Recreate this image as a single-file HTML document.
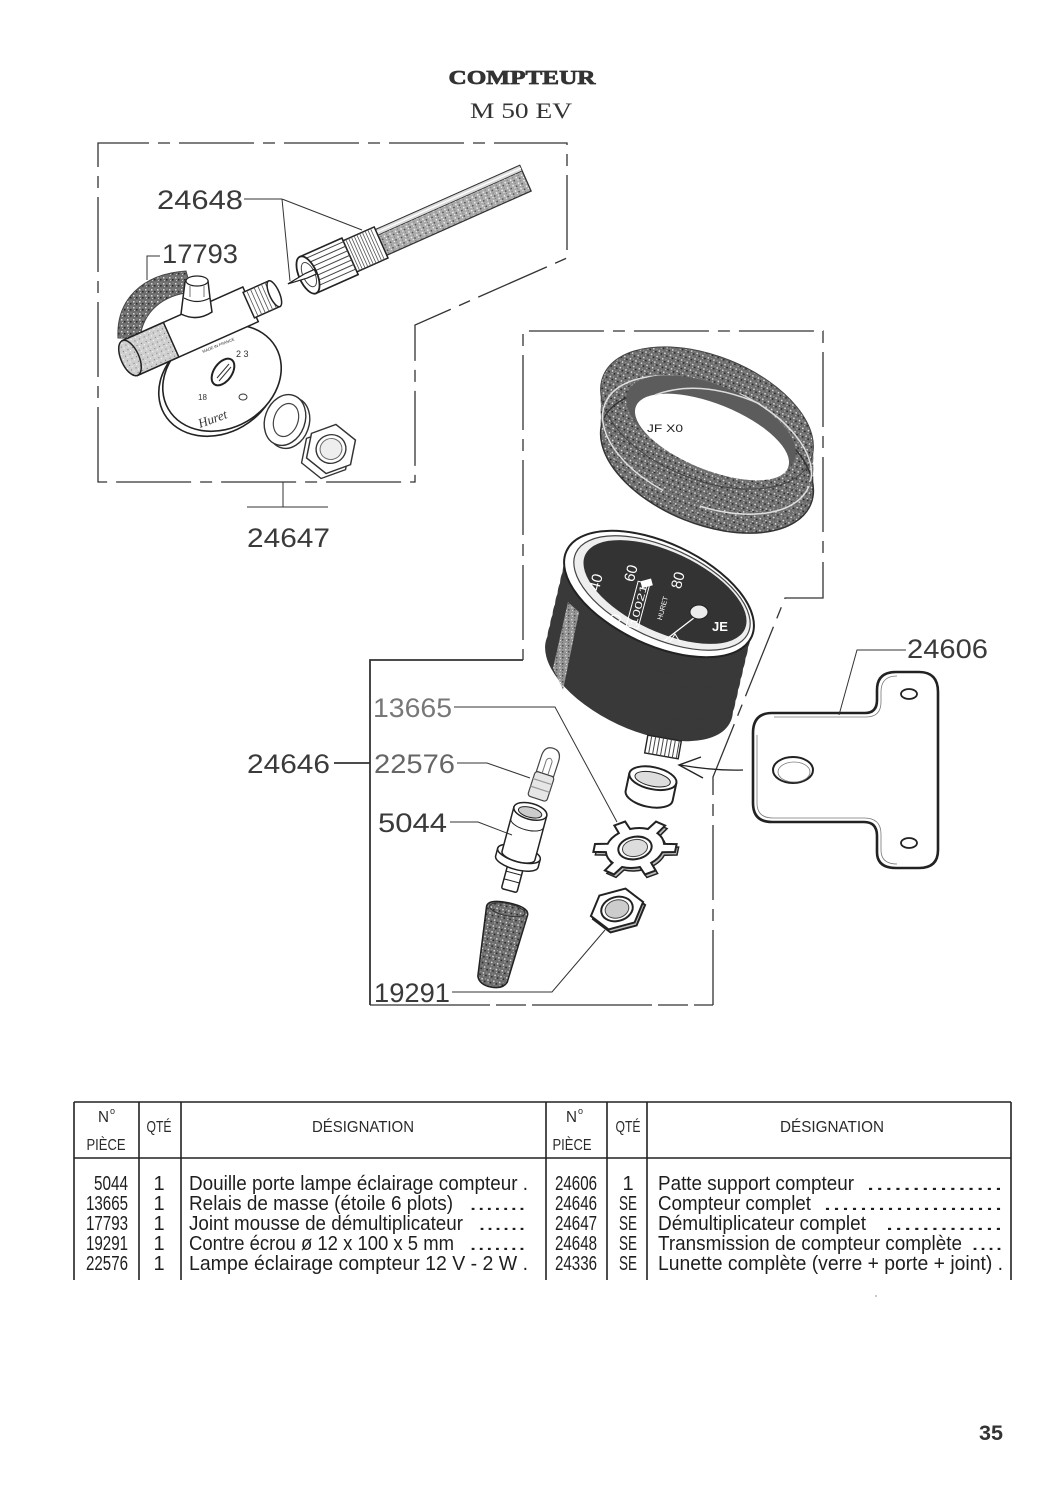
<!DOCTYPE html>
<html><head><meta charset="utf-8">
<style>
html,body{margin:0;padding:0;background:#fff;}
svg{display:block;}
text{font-family:"Liberation Sans",sans-serif;}
</style></head><body>
<svg width="1060" height="1500" viewBox="0 0 1060 1500" xmlns="http://www.w3.org/2000/svg">
<defs>
<pattern id="g1" width="6" height="6" patternUnits="userSpaceOnUse">
 <rect width="6" height="6" fill="#ababab"/>
 <rect x="1" y="1" width="1.5" height="1.5" fill="#eee"/>
 <rect x="4" y="3" width="1.5" height="1.5" fill="#555"/>
 <rect x="2" y="4" width="1" height="1" fill="#fff"/>
 <rect x="4" y="0" width="1" height="1" fill="#777"/>
</pattern>
<pattern id="g2" width="6" height="6" patternUnits="userSpaceOnUse">
 <rect width="6" height="6" fill="#6e6e6e"/>
 <rect x="1" y="1" width="1.5" height="1.5" fill="#d8d8d8"/>
 <rect x="4" y="3" width="1.5" height="1.5" fill="#2a2a2a"/>
 <rect x="2" y="4" width="1" height="1" fill="#c4c4c4"/>
 <rect x="4.5" y="0.5" width="1" height="1" fill="#a0a0a0"/>
</pattern>
<pattern id="g3" width="5" height="5" patternUnits="userSpaceOnUse">
 <rect width="5" height="5" fill="#cfcfcf"/>
 <rect x="1" y="1" width="1" height="1" fill="#777"/>
 <rect x="3" y="3" width="1" height="1" fill="#fff"/>
</pattern>
</defs>

<!-- Title -->
<text x="522" y="84" text-anchor="middle" style="font-family:'Liberation Serif',serif" font-weight="bold" font-size="20" textLength="147" lengthAdjust="spacingAndGlyphs" fill="#333" stroke="#333" stroke-width="0.7">COMPTEUR</text>
<text x="521" y="118" text-anchor="middle" style="font-family:'Liberation Serif',serif" font-size="22" textLength="102" lengthAdjust="spacingAndGlyphs" fill="#333">M 50 EV</text>

<!-- Frames -->
<g fill="none" stroke="#333" stroke-width="1.3" stroke-dasharray="75 9 12 9">
 <path d="M98,482 V143 H567 V258 L415,325 V482 Z"/>
 <path d="M713,1005 V777 L785,598 H823 V331 H523 V660"/>
</g>
<path d="M370,1005 H713" fill="none" stroke="#333" stroke-width="1.3" stroke-dasharray="120 6 30 6"/>
<g fill="none" stroke="#333" stroke-width="1.8">
 <path d="M523,660 H370 V1005"/>
</g>

<!-- Foam 17793 -->
<path d="M118,338 C116,300 142,274 186,271 L192,292 C162,295 143,312 140,338 Z" fill="url(#g2)" stroke="#444" stroke-width="1"/>

<!-- Disk of demultiplicateur -->
<ellipse cx="218" cy="383" rx="62" ry="50" transform="rotate(-30 218 383)" fill="#fff" stroke="#222" stroke-width="1.6"/>
<ellipse cx="222" cy="378" rx="62" ry="50" transform="rotate(-30 222 378)" fill="#fff" stroke="#222" stroke-width="1.6"/>
<ellipse cx="223" cy="372" rx="9" ry="15" transform="rotate(35 223 372)" fill="#fff" stroke="#222" stroke-width="2"/>
<path d="M217,378 L229,364 M219,381 L231,367" stroke="#333" stroke-width="1"/>
<text x="200" y="428" font-size="13" font-style="italic" fill="#333" style="font-family:'Liberation Serif',serif" transform="rotate(-20 200 428)">Huret</text>
<text x="236" y="357" font-size="9" fill="#333">2 3</text>
<text x="198" y="400" font-size="8" fill="#333">18</text>
<text x="203" y="353" font-size="4" fill="#333" transform="rotate(-22 203 353)">MADE IN FRANCE</text>
<ellipse cx="243" cy="397" rx="4" ry="3" fill="none" stroke="#333"/>

<!-- Demultiplicateur tube -->
<g transform="translate(130,358) rotate(-24)">
 <rect x="0" y="-19" width="132" height="38" fill="#fff" stroke="#222" stroke-width="1.5"/>
 <rect x="0" y="-19" width="45" height="38" fill="url(#g3)" stroke="#222" stroke-width="1.5"/>
 <rect x="130" y="-14" width="28" height="28" fill="#fff" stroke="#222" stroke-width="1.5"/>
 <path d="M134,-14v28M138,-14v28M142,-14v28M146,-14v28M150,-14v28M154,-14v28" stroke="#555" stroke-width="0.8"/>
 <ellipse cx="158" cy="0" rx="5" ry="14" fill="#fff" stroke="#222" stroke-width="1.5"/>
 <ellipse cx="0" cy="0" rx="9" ry="19" fill="url(#g3)" stroke="#222" stroke-width="1.5"/>
</g>
<!-- fitting on tube -->
<path d="M181,314 L183,298 L185,282 Q196,274 208,281 L210,298 L212,312 Q197,322 181,314 Z" fill="#fff" stroke="#222" stroke-width="1.5"/>
<ellipse cx="197" cy="281" rx="11" ry="5" fill="#fff" stroke="#222" stroke-width="1.2"/>
<path d="M184,298 Q197,305 210,298" fill="none" stroke="#222" stroke-width="1.2"/>
<path d="M190,286 V297 M204,286 V297" stroke="#555" stroke-width="0.8"/>

<!-- washer -->
<ellipse cx="289" cy="423" rx="20" ry="26" transform="rotate(20 289 423)" fill="#fff" stroke="#333" stroke-width="1.4"/>
<ellipse cx="285" cy="420" rx="20" ry="26" transform="rotate(20 285 420)" fill="#fff" stroke="#333" stroke-width="1.4"/>
<ellipse cx="286" cy="420" rx="12" ry="17" transform="rotate(20 286 420)" fill="#fff" stroke="#444" stroke-width="1.2"/>
<!-- hex nut -->
<g transform="translate(326,454) rotate(-20) scale(1,0.95)">
 <polygon points="26,0 13,22.5 -13,22.5 -26,0 -13,-22.5 13,-22.5" fill="#fff" stroke="#333" stroke-width="1.4"/>
</g>
<g transform="translate(331,449) rotate(-20) scale(1,0.95)">
 <polygon points="26,0 13,22.5 -13,22.5 -26,0 -13,-22.5 13,-22.5" fill="#fff" stroke="#333" stroke-width="1.5"/>
 <circle r="15" fill="#fff" stroke="#333" stroke-width="1.4"/>
 <circle r="11" fill="#eee" stroke="#666" stroke-width="1"/>
</g>

<!-- Cable 24648 with knurled nut -->
<g transform="translate(308,275) rotate(-24)">
 <rect x="78" y="-14" width="160" height="28" fill="url(#g1)" stroke="#333" stroke-width="1.3"/>
 <rect x="78" y="-14" width="160" height="6" fill="#ddd" stroke="#333" stroke-width="0.8"/>
 <line x1="80" y1="-11" x2="238" y2="-11" stroke="#fff" stroke-width="1.2"/>
 <rect x="45" y="-17" width="35" height="34" fill="#fff" stroke="#222" stroke-width="1.5"/>
 <path d="M49,-17v34M52,-17v34M55,-17v34M58,-17v34M61,-17v34M64,-17v34M67,-17v34M70,-17v34M73,-17v34M76,-17v34" stroke="#555" stroke-width="0.8"/>
 <rect x="0" y="-20" width="46" height="40" fill="#fff" stroke="#222" stroke-width="1.6"/>
 <path d="M6,-16H46M6,-11H46M6,-6H46M6,-1H46M6,4H46M6,9H46M6,14H46" stroke="#444" stroke-width="1"/>
 <ellipse cx="0" cy="0" rx="9" ry="20" fill="#fff" stroke="#222" stroke-width="1.8"/>
 <ellipse cx="1" cy="0" rx="6" ry="13" fill="#fff" stroke="#444" stroke-width="1"/>
 <polygon points="-22,0 -2,-2.5 8,-2.5 8,2.5 -2,2.5" fill="#fff" stroke="#222" stroke-width="1.2"/>
</g>

<!-- Bezel (lunette) -->
<g fill="url(#g2)">
 <ellipse cx="707" cy="462" rx="112" ry="62" transform="rotate(22 707 462)"/>
 <ellipse cx="707" cy="451" rx="112" ry="62" transform="rotate(22 707 451)"/>
 <ellipse cx="707" cy="440" rx="112" ry="62" transform="rotate(22 707 440)"/>
 <ellipse cx="707" cy="429" rx="112" ry="62" transform="rotate(22 707 429)"/>
 <ellipse cx="707" cy="418" rx="112" ry="62" transform="rotate(22 707 418)"/>
</g>
<ellipse cx="707" cy="462" rx="112" ry="62" transform="rotate(22 707 462)" fill="none" stroke="#333" stroke-width="1.5"/>
<ellipse cx="707" cy="418" rx="112" ry="62" transform="rotate(22 707 418)" fill="none" stroke="#444" stroke-width="1"/>
<ellipse cx="707" cy="445" rx="110" ry="60" transform="rotate(22 707 445)" fill="none" stroke="#e0e0e0" stroke-width="1.5" stroke-dasharray="120 40 200 60"/>
<ellipse cx="711" cy="426" rx="90" ry="41" transform="rotate(22 711 426)" fill="#5c5c5c"/>
<ellipse cx="712" cy="437" rx="82" ry="33" transform="rotate(22 712 437)" fill="#fff"/>
<path d="M655,395 Q700,378 760,404" fill="none" stroke="#ddd" stroke-width="1.5"/>
<text x="647" y="432" font-size="11" fill="#222" textLength="36" lengthAdjust="spacingAndGlyphs">JF X0</text>

<!-- Gauge body -->
<g fill="#393939">
 <ellipse cx="639" cy="679" rx="101" ry="50" transform="rotate(25 639 679)"/>
 <ellipse cx="641.5" cy="668.4" rx="101" ry="50" transform="rotate(25 641.5 668.4)"/>
 <ellipse cx="644" cy="657.8" rx="101" ry="50" transform="rotate(25 644 657.8)"/>
 <ellipse cx="646.5" cy="647.1" rx="101" ry="50" transform="rotate(25 646.5 647.1)"/>
 <ellipse cx="649" cy="636.5" rx="101" ry="50" transform="rotate(25 649 636.5)"/>
 <ellipse cx="651.5" cy="625.9" rx="101" ry="50" transform="rotate(25 651.5 625.9)"/>
 <ellipse cx="654" cy="615.3" rx="101" ry="50" transform="rotate(25 654 615.3)"/>
 <ellipse cx="656.5" cy="604.6" rx="101" ry="50" transform="rotate(25 656.5 604.6)"/>
</g>
<path d="M568,602 L553,668 L563,690 L579,612 Z" fill="url(#g1)" opacity="0.8"/>
<ellipse cx="659" cy="594" rx="102" ry="51" transform="rotate(25 659 594)" fill="#fff" stroke="#222" stroke-width="2"/>
<ellipse cx="662" cy="593" rx="95" ry="45" transform="rotate(25 662 593)" fill="#eee" stroke="#444" stroke-width="1.2"/>
<ellipse cx="665" cy="592" rx="88" ry="40" transform="rotate(25 665 592)" fill="#333"/>
<g fill="#fff" font-size="15">
 <text x="595" y="588" text-anchor="middle" transform="rotate(-75 595 582)">40</text>
 <text x="630" y="579" text-anchor="middle" transform="rotate(-75 630 573)">60</text>
 <text x="677" y="586" text-anchor="middle" transform="rotate(-75 677 580)">80</text>
 <text x="615" y="624" text-anchor="middle" transform="rotate(-75 615 618)">0</text>
</g>
<rect x="641" y="580" width="11" height="7" fill="#fff" transform="rotate(-15 646 583)"/>
<g transform="rotate(-75 638 605)">
 <rect x="615" y="599" width="46" height="12" fill="none" stroke="#fff" stroke-width="1"/>
 <text x="617" y="609" font-size="10" fill="#fff" textLength="42" lengthAdjust="spacingAndGlyphs">10021</text>
</g>
<text x="662" y="611" font-size="7" fill="#fff" text-anchor="middle" transform="rotate(-75 662 608)">HURET</text>
<line x1="699" y1="614" x2="664" y2="641" stroke="#fff" stroke-width="1.3"/>
<ellipse cx="699" cy="612" rx="9" ry="7" fill="#ececec" stroke="#222" stroke-width="1"/>
<text x="712" y="631" font-size="13" font-weight="bold" fill="#fff">JE</text>
<path d="M670,642 L675,634 L680,642" fill="none" stroke="#fff" stroke-width="1"/>

<!-- threaded stem -->
<g transform="translate(663,747) rotate(10)">
 <rect x="-17" y="-9" width="34" height="18" fill="#fff" stroke="#222" stroke-width="1.4"/>
 <path d="M-13,-9v18M-9,-9v18M-5,-9v18M-1,-9v18M3,-9v18M7,-9v18M11,-9v18M15,-9v18" stroke="#444" stroke-width="1"/>
</g>

<!-- bushing -->
<g transform="translate(651,787) rotate(12)" stroke="#222" stroke-width="2" fill="#fff">
 <path d="M-24,-9 V9 A24,11 0 0 0 24,9 V-9"/>
 <ellipse cx="0" cy="-9" rx="24" ry="11"/>
 <ellipse cx="0" cy="-8" rx="18" ry="7" fill="#ddd" stroke-width="1"/>
</g>

<!-- star washer 13665 -->
<g transform="translate(637,851) rotate(-10) scale(1.05,0.7)">
 <path d="M27.96,1.47 L39.70,4.87 L36.82,15.63 L24.95,12.71 A28,28 0 0 1 12.71,24.95 L15.63,36.82 L4.87,39.70 L1.47,27.96 A28,28 0 0 1 -15.25,23.48 L-24.07,31.95 L-31.95,24.07 L-23.48,15.25 A28,28 0 0 1 -27.96,-1.47 L-39.70,-4.87 L-36.82,-15.63 L-24.95,-12.71 A28,28 0 0 1 -12.71,-24.95 L-15.63,-36.82 L-4.87,-39.70 L-1.47,-27.96 A28,28 0 0 1 15.25,-23.48 L24.07,-31.95 L31.95,-24.07 L23.48,-15.25 A28,28 0 0 1 27.96,1.47 Z" fill="#bbb" stroke="#222" stroke-width="1.5" vector-effect="non-scaling-stroke"/>
</g>
<g transform="translate(635,848) rotate(-10) scale(1.05,0.7)">
 <path d="M27.96,1.47 L39.70,4.87 L36.82,15.63 L24.95,12.71 A28,28 0 0 1 12.71,24.95 L15.63,36.82 L4.87,39.70 L1.47,27.96 A28,28 0 0 1 -15.25,23.48 L-24.07,31.95 L-31.95,24.07 L-23.48,15.25 A28,28 0 0 1 -27.96,-1.47 L-39.70,-4.87 L-36.82,-15.63 L-24.95,-12.71 A28,28 0 0 1 -12.71,-24.95 L-15.63,-36.82 L-4.87,-39.70 L-1.47,-27.96 A28,28 0 0 1 15.25,-23.48 L24.07,-31.95 L31.95,-24.07 L23.48,-15.25 A28,28 0 0 1 27.96,1.47 Z" fill="#fff" stroke="#222" stroke-width="2" vector-effect="non-scaling-stroke"/>
 <circle r="16" fill="#fff" stroke="#222" stroke-width="2" vector-effect="non-scaling-stroke"/>
 <circle r="12" fill="#ddd" stroke="#444" stroke-width="1" vector-effect="non-scaling-stroke"/>
</g>

<!-- nut 19291 -->
<g transform="translate(619,912) rotate(-15) scale(1,0.75)">
 <polygon points="27,0 13.5,23.4 -13.5,23.4 -27,0 -13.5,-23.4 13.5,-23.4" fill="#bbb" stroke="#222" stroke-width="2" vector-effect="non-scaling-stroke"/>
</g>
<g transform="translate(617,909) rotate(-15) scale(1,0.75)">
 <polygon points="27,0 13.5,23.4 -13.5,23.4 -27,0 -13.5,-23.4 13.5,-23.4" fill="#fff" stroke="#222" stroke-width="2" vector-effect="non-scaling-stroke"/>
 <circle r="16" fill="#fff" stroke="#222" stroke-width="2" vector-effect="non-scaling-stroke"/>
 <circle r="12" fill="#ccc" stroke="#444" stroke-width="1" vector-effect="non-scaling-stroke"/>
</g>

<!-- bulb 22576 -->
<g transform="translate(545,774) rotate(18)" stroke="#444" stroke-width="1.2">
 <rect x="-10" y="0" width="20" height="26" rx="3" fill="#e6e6e6"/>
 <path d="M-10,8H10M-10,16H10" stroke="#999"/>
 <path d="M-9,0 V-16 Q-9,-27 0,-27 Q9,-27 9,-16 V0 Z" fill="#fff"/>
 <path d="M-3,0 V-14 M3,0 V-14 M-3,-14 Q0,-19 3,-14" fill="none" stroke="#777" stroke-width="1"/>
</g>

<!-- socket 5044 -->
<g transform="translate(520,850) rotate(15)" stroke="#222" stroke-width="1.5" fill="#fff">
 <rect x="-8" y="12" width="16" height="30" rx="2"/>
 <path d="M-8,24H8M-8,32H8" stroke-width="1"/>
 <path d="M-22,4 V12 A22,8 0 0 0 22,12 V4 Z"/>
 <ellipse cx="0" cy="4" rx="22" ry="8"/>
 <path d="M-17,-40 V6 A17,6 0 0 0 17,6 V-40 Z"/>
 <path d="M-17,-28 A17,7 0 0 0 17,-28" fill="none" stroke-width="1"/>
 <ellipse cx="0" cy="-40" rx="17" ry="8"/>
 <ellipse cx="0" cy="-39" rx="12" ry="5" fill="#ccc" stroke-width="1"/>
</g>

<!-- rubber boot -->
<g transform="translate(500,944) rotate(12)">
 <path d="M-21,-34 Q-21,-42 0,-42 Q21,-42 21,-34 L15,36 Q12,44 0,44 Q-12,44 -15,36 Z" fill="url(#g2)" stroke="#222" stroke-width="1.5"/>
 <ellipse cx="0" cy="-35" rx="18" ry="6" fill="none" stroke="#333" stroke-width="1"/>
</g>

<!-- Bracket 24606 -->
<path d="M772,713 H865 Q877,713 877,700 V690 Q877,672 896,672 H919 Q938,672 938,692 V850 Q938,868 919,868 H896 Q877,868 877,852 V836 Q877,822 864,822 H772 Q753,822 753,803 V733 Q753,713 772,713 Z" fill="#fff" stroke="#222" stroke-width="2.6"/>
<path d="M774,717 H866 Q881,717 881,702 V692 Q881,676 897,676" fill="none" stroke="#777" stroke-width="0.8"/>
<path d="M757,735 V803 Q757,818 773,818 H864 Q881,818 881,834 V850 Q881,864 897,864" fill="none" stroke="#777" stroke-width="0.8"/>
<ellipse cx="793" cy="770" rx="20" ry="13" fill="#fff" stroke="#222" stroke-width="2"/>
<ellipse cx="794" cy="772" rx="16" ry="10" fill="none" stroke="#777" stroke-width="0.8"/>
<ellipse cx="909" cy="694" rx="8" ry="5" fill="#fff" stroke="#222" stroke-width="1.8"/>
<ellipse cx="909" cy="843" rx="8" ry="5" fill="#fff" stroke="#222" stroke-width="1.8"/>

<!-- arrow -->
<path d="M743,770 Q715,771 680,765" fill="none" stroke="#222" stroke-width="1.3"/>
<path d="M701,757 L679,765 L703,778" fill="none" stroke="#222" stroke-width="1.4"/>

<!-- leader lines -->
<g fill="none" stroke="#333" stroke-width="1">
 <path d="M244,199 H282 L290,281 M282,199 L362,230"/>
 <path d="M160,256 H147 V280"/>
 <path d="M283,482 V507 M247,507 H328"/>
 <path d="M906,650 H857 L839,715"/>
 <path d="M454,707 H555 L617,822"/>
 <path d="M457,763 H487 L530,778"/>
 <path d="M450,822 H478 L512,835"/>
 <path d="M452,992 H552 L605,930"/>
</g>
<path d="M334,763 H370" stroke="#333" stroke-width="1.8"/>

<!-- labels -->
<g font-size="27" fill="#3a3a3a">
 <text x="157" y="209" textLength="86" lengthAdjust="spacingAndGlyphs">24648</text>
 <text x="162" y="263" textLength="76" lengthAdjust="spacingAndGlyphs">17793</text>
 <text x="247" y="547" textLength="83" lengthAdjust="spacingAndGlyphs">24647</text>
 <text x="907" y="658" textLength="81" lengthAdjust="spacingAndGlyphs">24606</text>
 <text x="373" y="717" textLength="79" lengthAdjust="spacingAndGlyphs" fill="#777">13665</text>
 <text x="247" y="773" textLength="83" lengthAdjust="spacingAndGlyphs">24646</text>
 <text x="374" y="773" textLength="81" lengthAdjust="spacingAndGlyphs" fill="#666">22576</text>
 <text x="378" y="832" textLength="69" lengthAdjust="spacingAndGlyphs">5044</text>
 <text x="374" y="1002" textLength="76" lengthAdjust="spacingAndGlyphs">19291</text>
</g>

<!-- Table -->
<g stroke="#222" stroke-width="1.6" fill="none">
 <path d="M74,1102 H1011 M74,1158 H1011"/>
 <path d="M74,1102 V1280 M139,1102 V1280 M181,1102 V1280 M546,1102 V1280 M607,1102 V1280 M647,1102 V1280 M1011,1102 V1280"/>
</g>
<g fill="#2a2a2a" font-size="16">
 <text x="98" y="1122" textLength="11" lengthAdjust="spacingAndGlyphs">N</text>
 <text x="110" y="1114" font-size="9">o</text>
 <text x="106" y="1150" text-anchor="middle" textLength="39" lengthAdjust="spacingAndGlyphs">PIÈCE</text>
 <text x="159" y="1132" text-anchor="middle" textLength="25" lengthAdjust="spacingAndGlyphs">QTÉ</text>
 <text x="363" y="1132" text-anchor="middle" textLength="102" lengthAdjust="spacingAndGlyphs">DÉSIGNATION</text>
 <text x="566" y="1122" textLength="11" lengthAdjust="spacingAndGlyphs">N</text>
 <text x="578" y="1114" font-size="9">o</text>
 <text x="572" y="1150" text-anchor="middle" textLength="39" lengthAdjust="spacingAndGlyphs">PIÈCE</text>
 <text x="628" y="1132" text-anchor="middle" textLength="25" lengthAdjust="spacingAndGlyphs">QTÉ</text>
 <text x="832" y="1132" text-anchor="middle" textLength="104" lengthAdjust="spacingAndGlyphs">DÉSIGNATION</text>
</g>
<g fill="#1e1e1e" font-size="20">
 <text x="128" y="1190" text-anchor="end" textLength="34" lengthAdjust="spacingAndGlyphs">5044</text>
 <text x="128" y="1210" text-anchor="end" textLength="42" lengthAdjust="spacingAndGlyphs">13665</text>
 <text x="128" y="1230" text-anchor="end" textLength="42" lengthAdjust="spacingAndGlyphs">17793</text>
 <text x="128" y="1250" text-anchor="end" textLength="42" lengthAdjust="spacingAndGlyphs">19291</text>
 <text x="128" y="1270" text-anchor="end" textLength="42" lengthAdjust="spacingAndGlyphs">22576</text>
 <text x="159" y="1190" text-anchor="middle">1</text>
 <text x="159" y="1210" text-anchor="middle">1</text>
 <text x="159" y="1230" text-anchor="middle">1</text>
 <text x="159" y="1250" text-anchor="middle">1</text>
 <text x="159" y="1270" text-anchor="middle">1</text>
 <text x="189" y="1190" textLength="339" lengthAdjust="spacingAndGlyphs">Douille porte lampe éclairage compteur .</text>
 <text x="189" y="1210" textLength="264" lengthAdjust="spacingAndGlyphs">Relais de masse (étoile 6 plots)</text>
 <text x="469" y="1210" textLength="57" lengthAdjust="spacingAndGlyphs">.......</text>
 <text x="189" y="1230" textLength="274" lengthAdjust="spacingAndGlyphs">Joint mousse de démultiplicateur</text>
 <text x="478" y="1230" textLength="48" lengthAdjust="spacingAndGlyphs">......</text>
 <text x="189" y="1250" textLength="265" lengthAdjust="spacingAndGlyphs">Contre écrou ø 12 x 100 x 5 mm</text>
 <text x="469" y="1250" textLength="57" lengthAdjust="spacingAndGlyphs">.......</text>
 <text x="189" y="1270" textLength="339" lengthAdjust="spacingAndGlyphs">Lampe éclairage compteur 12 V - 2 W .</text>

 <text x="555" y="1190" textLength="42" lengthAdjust="spacingAndGlyphs">24606</text>
 <text x="555" y="1210" textLength="42" lengthAdjust="spacingAndGlyphs">24646</text>
 <text x="555" y="1230" textLength="42" lengthAdjust="spacingAndGlyphs">24647</text>
 <text x="555" y="1250" textLength="42" lengthAdjust="spacingAndGlyphs">24648</text>
 <text x="555" y="1270" textLength="42" lengthAdjust="spacingAndGlyphs">24336</text>
 <text x="628" y="1190" text-anchor="middle">1</text>
 <text x="628" y="1210" text-anchor="middle" textLength="18" lengthAdjust="spacingAndGlyphs">SE</text>
 <text x="628" y="1230" text-anchor="middle" textLength="18" lengthAdjust="spacingAndGlyphs">SE</text>
 <text x="628" y="1250" text-anchor="middle" textLength="18" lengthAdjust="spacingAndGlyphs">SE</text>
 <text x="628" y="1270" text-anchor="middle" textLength="18" lengthAdjust="spacingAndGlyphs">SE</text>
 <text x="658" y="1190" textLength="196" lengthAdjust="spacingAndGlyphs">Patte support compteur</text>
 <text x="866" y="1190" textLength="137" lengthAdjust="spacingAndGlyphs">...............</text>
 <text x="658" y="1210" textLength="153" lengthAdjust="spacingAndGlyphs">Compteur complet</text>
 <text x="823" y="1210" textLength="180" lengthAdjust="spacingAndGlyphs">....................</text>
 <text x="658" y="1230" textLength="208" lengthAdjust="spacingAndGlyphs">Démultiplicateur complet</text>
 <text x="885" y="1230" textLength="118" lengthAdjust="spacingAndGlyphs">.............</text>
 <text x="658" y="1250" textLength="304" lengthAdjust="spacingAndGlyphs">Transmission de compteur complète</text>
 <text x="971" y="1250" textLength="32" lengthAdjust="spacingAndGlyphs">....</text>
 <text x="658" y="1270" textLength="345" lengthAdjust="spacingAndGlyphs">Lunette complète (verre + porte + joint) .</text>
</g>

<!-- page number -->
<text x="979" y="1440" font-size="21" font-weight="bold" fill="#333" textLength="24" lengthAdjust="spacingAndGlyphs">35</text>
<circle cx="876" cy="1296" r="1" fill="#bbb"/>
</svg>
</body></html>
